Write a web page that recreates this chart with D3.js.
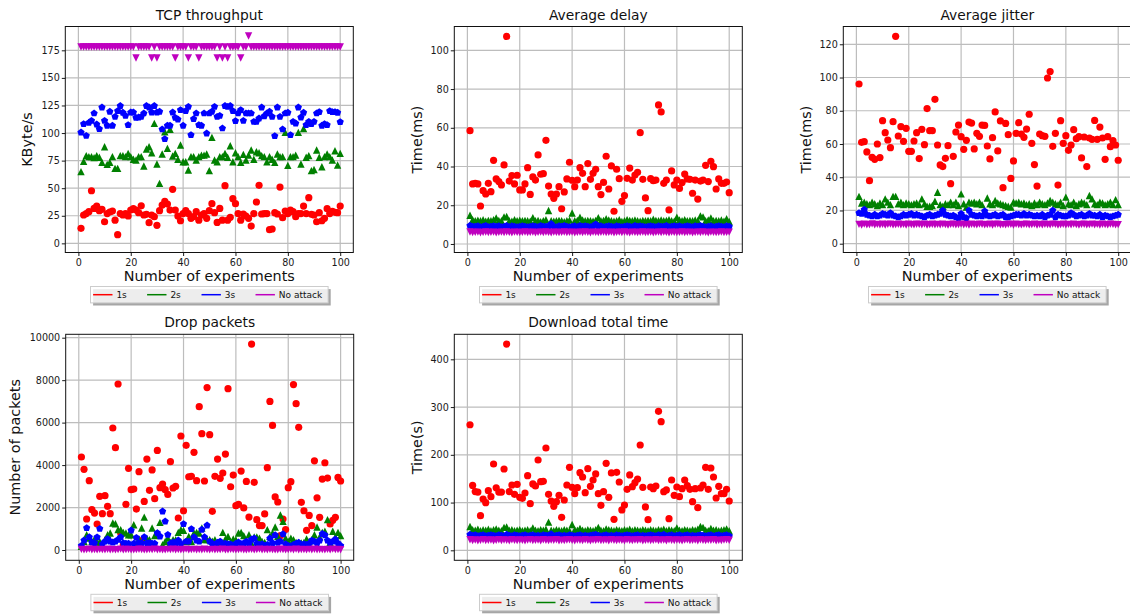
<!DOCTYPE html>
<html><head><meta charset="utf-8">
<script src="https://cdn.jsdelivr.net/npm/d3@7"></script>
<style>body{margin:0;background:#fff;} svg{display:block;font-family:"DejaVu Sans",sans-serif;}</style>
</head><body><svg id="c" width="1130" height="614"></svg>
<script>
// ---------------- DATA ----------------
const experiments = d3.range(1, 101);
const seriesLabels = ["1s", "2s", "3s", "No attack"];
const xTicks = [0, 20, 40, 60, 80, 100];

const tcpTicks = [0, 25, 50, 75, 100, 125, 150, 175];
const tcp1 = [13.6,25.7,27,28.7,47.7,31.7,33.8,29.6,30.8,19.6, 27,28.4,29.3,21,7.9,27,25.7,27,24.8,30.2, 31.4,30.2,27.8,34,25.7,26.3,18.7,25.7,24.2,16.3, 29.6,34.7,38,35.6,30.2,49,30.2,24.8,20.5,27, 29.6,27,22.7,24.2,28.7,21,25.7,27,22.7,29.6, 36,27.8,19,31.7,21,52.3,21,23.6,40.5,36, 27,21,26.6,24.8,22.7,15.7,27,37.5,52.6,26.6, 27,27,12.4,13,27.8,26.6,51,23.3,29.3,27, 30.2,28.7,24.2,27,27,33.8,27,41.4,26.3,25.7, 19.6,27.8,20.5,22.7,31.4,27,29,28.1,27.8,33.8];
const tcp2 = [65,74.3,79.5,78.6,78.6,77.7,79.5,78,73.4,87.6, 71.6,73.4,78.6,68,68,79.5,79.5,78.6,81.6,78.6, 76.2,75.6,78.6,78.6,70.1,85.5,87.6,82.2,108.8,71.9, 54.4,81,101.2,86.1,103.4,79.2,81.6,76.2,89.1,74, 74,66.5,78.6,78.6,75.6,78.6,80,80,81,65.9, 96.1,75.6,74,78.6,78.6,81.6,78,88.5,74,82.2, 78.6,73.4,80.7,75.6,80,84.6,76.2,83.1,82.2,79.5, 78.6,74,78.6,76.2,73.4,81,78.6,78.6,100.6,70.7, 78.6,78.6,80,100.6,71.9,104,78,79.5,65.9,67, 84.6,78,69.5,78.6,81,78.6,75.6,84,71,81.6];
const tcp3 = [100.6,108.2,97.6,109.4,111.2,117.9,107.9,103.7,123.3,111.2, 106.7,119.4,106.7,114.8,120,124.6,118.5,115.7,107.3,118.8, 118.8,113.9,114.2,114.8,117.9,124.6,123.3,118.8,124.6,118.8, 119.4,103.4,94.6,106.7,106.7,118.8,113.9,112.4,120.9,106.7, 120,123.9,98.2,112.7,117.9,107.3,106.7,117.9,99.7,117.9, 119.4,123.9,114.8,115.7,104.3,124.6,123.9,124.6,120,110.9, 117.9,120.9,111.2,117.9,117.9,117.9,110.3,110.3,113.3,123.3, 115.4,117.9,119.4,114.8,97.3,123.3,114.8,103.4,117.9,118.5, 98.2,110.3,108.8,123.3,114.2,118.5,107.3,110.3,108.2,110.3, 117.9,119.1,106.7,108.2,107.3,120,119.1,119.1,118.5,110];
const tcpN = [178,178,178,178,178,178,178,178,178,178, 178,178,178,178,178,178,178,178,178,178, 178,168,178,178,178,178,178,168,178,168, 178,178,178,178,178,178,168,178,178,178, 178,168,178,178,178,168,178,178,178,178, 178,178,168,178,168,178,168,178,178,178, 178,168,178,178,188,178,178,178,178,178, 178,178,178,178,178,178,178,178,178,178, 178,178,178,178,178,178,178,178,178,178, 178,178,178,178,178,178,178,178,178,178];

const delayTicks = [0, 20, 40, 60, 80, 100];
const delay1 = [58.5,31,31.3,31,19.6,27.5,25.8,31.3,27,43.2, 33.6,32.2,30.5,40.8,107.2,32.5,35.3,31,35.5,27.9, 27.9,31,39.4,25.6,34.6,33,46,36,36.3,53.5, 29.9,25.8,23.6,25.8,29.6,18.2,26.9,33.6,42.2,32.9, 29.6,33,39.4,36.5,29.6,41.5,33.4,36.5,38.6,29.6, 25.5,31.8,45.3,28.4,40.3,16.9,38.6,33.7,22,25, 33.9,39.2,33,35.6,37,57.5,33.4,23.8,17.2,33.7, 32.7,33,71.8,68.2,31.3,33,17.6,37.7,30.5,33, 28.7,31.7,36.1,33.6,33.4,26.2,33,23.2,32.5,33, 40.6,32.2,42.7,39.9,28.4,33.6,31.3,31.3,32,26.5];
const delay2 = [14.8,12.5,12,12.3,12,12.5,11.8,12.2,12,12.6, 13.5,12.2,12,14,14.2,12,11.8,12.5,12,12.3, 12,12.2,12,11.8,13.6,12,12.2,11.5,12,12.6, 17.3,12,11.8,12,12.2,12,11.5,12,12.3,16, 12,12.2,13.8,12.4,12,12.2,12,11.8,12.2,13.6, 12,12.2,13,12.4,12,11.8,12,12.5,11.6,12, 12.6,12.2,12,12.4,12,11.8,12.2,12,12.2,12, 12.8,12.2,12,12.4,12,12.2,12.6,12,11.8,13.8, 12.4,12,12.6,12,12.2,12,12.4,12,14.5,14, 12,12.4,13.5,12,12.2,12,12.4,11.8,13,11.6];
const delay3 = [9.5,9,9,9.2,8.8,9,9.4,8.8,9,9.2, 9,9.2,8.8,9,9.4,8.8,9.2,9,8.8,9, 9.2,9,8.8,9,9.2,9,8.8,9.4,9,9, 9.2,10.4,9,8.8,9.2,9,9.4,9,8.8,9, 9.2,8.8,9.4,9,9.2,9,8.8,9.2,10.2,9, 9.2,8.8,9,9.2,9,8.8,9.2,9,8.8,9, 9.2,9,8.8,9.4,9,9.2,9,8.8,9,9.2, 9,8.8,9.2,9,9,9.4,8.8,9,9.2,9, 9.2,8.8,9,9.2,9,8.8,9.2,9,9.4,9, 8.8,9,9.2,8.8,9,9.2,9,8.8,9.2,9];
const delayN = [6.2,5.9,6,6.1,5.8,6,6.2,5.9,6,6.1, 5.8,6,6.1,5.9,6.2,6,5.8,6.1,6,5.9, 6,6.2,5.9,6,6.1,5.8,6,6.1,5.9,6.2, 6,5.8,6.1,6,5.9,6,6.2,5.9,6,6.1, 5.8,6,6.1,5.9,6.2,6,5.8,6.1,6,5.9, 6,6.2,5.9,6,6.1,5.8,6,6.1,5.9,6.2, 6,5.8,6.1,6,5.9,6,6.2,5.9,6,6.1, 5.8,6,6.1,5.9,6.2,6,5.8,6.1,6,5.9, 6,6.2,5.9,6,6.1,5.8,6,6.1,5.9,6.2, 6,5.8,6.1,6,5.9,6,6.2,5.9,6,6.1];

const jitterTicks = [0, 20, 40, 60, 80, 100, 120];
const jitter1 = [96.1,61,61.4,55.2,37.9,52,50.8,60,51.8,74, 66.8,62.4,57.8,73.4,124.8,64.8,70.4,61.6,69.4,55.6, 55.6,61.8,66.8,51.2,68.8,59.6,81.3,68,68,86.9, 59.4,47.4,46.4,51.4,59,36.1,52.6,67.2,71.4,64.4, 56.8,62.2,73.2,72.6,57,66.4,64.6,71.4,71.2,58.8, 51,63.8,79.3,55.8,73.9,33.7,72.4,65.6,39.3,49.8, 66.4,72.8,66,64,69,77.9,60.4,47.6,34.7,66, 65,64.6,99.7,103.6,58.6,66.4,35.3,74,60.4,65, 56.2,59.4,68.6,63.2,64.4,51.6,64.2,46.4,63.6,62.8, 74.2,62.8,70.2,63.6,50.8,64.4,58.4,62,59.4,50.2];
const jitter2 = [28.5,24.5,25,24,23.5,25,24,23,24.5,23.5, 27,25,23.5,28.5,28.5,24,25,23.5,24.5,24, 23.5,24,24.5,23.5,27,24,22.5,22.5,23,25.5, 31,23.5,22.5,24,23.5,25,23.5,25,23,30, 24,22,25,24.5,25,24,25,23.5,19.5,27.5, 24,23.5,26,24.5,24,23.5,23,22.5,22,25, 24.5,25,24,24.5,23.5,24,23,24.5,23.5,25, 24,23.5,24.5,26,25,24,23.5,25,23,28, 24,23.5,25,23,24,25,24.5,23.5,29,27, 24,23.5,25,24.5,23.5,24,25,23.5,26.5,23.5];
const jitter3 = [18.5,18,20.5,17.5,17,16.5,17.5,16.5,17,18, 17.5,17,18.5,17,16.5,16,16.5,17.5,17,17.5, 18,17,17.5,17,16.5,16,17,17.5,16.5,17, 17.5,18,20,17.5,17,16.5,17,16,15.5,18, 16,15.5,20,17.5,17,16.5,17,16.5,19.5,17, 16.5,17,17.5,16.5,17,17.5,16,16,16.5,17, 17.5,17.5,17,18,17,17.5,17,16.5,17,16.5, 17.5,16,17,17.5,20,16,17.5,17,16.5,16.5, 17,18.5,17.5,16.5,17,17.5,16.5,17,18,17, 17,16.5,17.5,16,17,16.5,16,16.5,17,17.5];
const jitterN = [11.6,11.2,11.8,11.4,11.5,11.9,11.3,11.6,11.4,11.7, 11.2,11.6,11.8,11.3,11.5,11.7,11.4,11.6,11.2,11.8, 11.5,11.3,11.7,11.6,11.4,11.8,11.2,11.5,11.7,11.3, 11.6,11.4,11.8,11.5,11.2,11.6,11.7,11.3,11.5,11.8, 11.4,11.6,11.2,11.7,11.5,11.3,11.8,11.6,11.4,11.5, 11.7,11.2,11.6,11.8,11.3,11.5,11.4,11.7,11.6,11.2, 11.8,11.5,11.3,11.6,11.7,11.4,11.5,11.8,11.2,11.6, 11.3,11.7,11.5,11.4,11.8,11.6,11.2,11.5,11.7,11.3, 11.6,11.4,11.8,11.5,11.2,11.6,11.7,11.3,11.5,11.8, 11.4,11.6,11.2,11.7,11.5,11.3,11.8,11.6,11.4,11.5];

const dropTicks = [0, 2000, 4000, 6000, 8000, 10000];
const drop1 = [4380,3800,1460,3265,1900,1740,1224,2527,1711,2560, 2057,1711,5746,4819,7818,800,250,2150,3846,2840, 2870,1930,3690,440,2290,4285,2810,3770,2420,4690, 2935,3110,2840,2620,4160,2920,3000,1507,5370,1850, 4930,3450,3470,4600,3265,6750,5480,3250,7650,5430, 1820,3470,4285,3375,3626,4520,7600,2980,3530,2090, 2150,3720,1980,3230,1550,9700,3190,1430,1150,1150, 1700,3880,7000,5870,2500,2260,675,1460,960,2935, 3220,7790,6890,5780,2245,1850,926,1630,1150,4200, 2460,1540,3340,4110,3390,1224,1400,1540,3420,3250];
const drop2 = [170,400,720,560,400,520,360,400,250,490, 720,800,1270,1240,960,960,830,800,720,720, 1190,300,520,1036,1550,560,490,1036,675,800, 1300,250,400,560,360,490,490,830,960,926, 400,640,400,800,830,800,1036,490,490,490, 410,490,320,320,830,520,640,400,520,490, 800,830,675,400,720,300,610,610,560,400, 360,960,640,800,1080,640,1650,1350,560,400, 560,490,360,330,330,360,520,400,490,720, 1080,610,830,880,1430,360,880,610,830,675];
const drop3 = [200,455,1036,610,360,330,600,1000,280,400, 520,400,360,400,490,610,330,300,300,926, 300,580,330,330,610,330,330,300,300,800, 640,1820,1350,720,300,360,300,455,300,1224, 400,400,990,610,455,400,960,610,1160,400, 300,250,350,400,250,300,280,270,200,300, 360,280,320,400,300,500,550,300,250,280, 200,250,550,330,700,350,400,750,280,200, 180,250,300,350,200,280,250,300,450,400, 320,450,760,700,450,350,400,500,320,200];
const dropN = [30,10,20,40,15,25,5,30,20,10, 35,15,25,10,20,40,5,25,30,15, 10,20,35,25,5,15,30,20,40,10, 25,15,5,30,20,35,10,25,15,20, 40,5,20,30,15,25,10,35,20,15, 30,10,25,20,40,5,15,30,25,10, 20,35,15,5,25,30,10,20,40,15, 25,10,30,20,5,15,35,25,10,20, 30,15,40,10,25,20,5,30,15,35, 10,25,20,15,30,5,40,20,25,10];

const dlTicks = [0, 100, 200, 300, 400];
const dl1 = [263,136,123,122,72.6,107.5,99.8,125,112.4,180.8, 131,122,122,170.3,432,123,136.8,117.3,138.2,111, 108.9,120,156.4,97.7,139,134.7,189.2,143.8,144.5,214.3, 117.3,103.3,92.1,101.9,115.2,69.1,105.4,136.8,173.8,131.9, 118.7,131.2,162.7,153.6,120.8,171,134,147.3,159.9,118.7, 94.2,122.9,182.2,111,162,64.9,163.4,143.1,84.5,94.9, 127.7,157.8,133.3,141.7,149.4,220.6,131.9,90.8,64.2,132.6, 129.1,134.7,291,269.5,122.9,126.4,66.3,147.3,115.2,132.6, 112.4,129.1,147.3,135.4,127.7,101.9,129.1,89.4,130.5,136.8, 173.8,127.7,172.4,153.6,109.6,134,118.7,118.7,127.7,103.3];
const dl2 = [50,43,42,44,41,43,42,44,41,43, 45,42,41,48,49,42,43,41,42,43, 41,42,43,41,47,42,41,43,42,44, 59,42,41,43,42,41,43,42,41,54, 43,42,46,42,41,43,42,41,43,48, 42,41,45,43,42,41,43,42,41,43, 42,44,41,43,42,41,43,42,41,43, 42,41,43,42,44,41,43,42,41,47, 42,41,43,42,41,43,42,44,50,48, 42,41,46,42,43,41,42,43,45,41];
const dl3 = [33,31,32,30,31,32,30,31,32,31, 30,32,31,30,33,31,30,32,31,30, 31,32,30,31,32,30,31,30,32,31, 31,34,30,31,32,30,31,30,32,31, 30,31,32,30,31,30,31,32,33,31, 30,31,32,30,31,30,32,31,30,31, 32,31,30,31,32,30,31,30,31,32, 31,30,32,31,33,30,31,32,30,31, 32,30,31,32,30,31,30,31,32,31, 30,31,32,30,31,32,30,31,32,30];
const dlN = [22,20.5,21.5,20,21,22,20.5,21,21.5,20, 21,22,20.5,21.5,21,20,22,21,20.5,21.5, 21,20,21.5,22,20.5,21,21.5,20,22,21, 20.5,21.5,21,22,20,21,20.5,21.5,22,21, 20,21.5,21,20.5,22,21,20,21.5,21,22, 20.5,21,21.5,20,22,21,20.5,21.5,21,20, 22,21,20.5,21.5,21,22,20,21,21.5,20.5, 21,22,20.5,21,21.5,20,22,21,20.5,21.5, 21,20,21.5,22,20.5,21,21.5,20,22,21, 20.5,21.5,21,22,20,21,20.5,21.5,22,21];

// ---------------- LAYOUT / STYLE ----------------
const colors = ["#ff0000", "#008000", "#0000ff", "#bf00bf"];
const shapes = ["circle", "triUp", "pentagon", "triDown"];
const W = 288, H = 226;

const panels = [
  {title: "TCP throughput", ylabel: "KByte/s", left: 65.3, top: 26.5, yDomain: [-8.3, 196.6], yTicks: tcpTicks, series: [tcp1, tcp2, tcp3, tcpN], ylabX: -33},
  {title: "Average delay", ylabel: "Time(ms)", left: 454.3, top: 26.5, yDomain: [-4.4, 112.3], yTicks: delayTicks, series: [delay1, delay2, delay3, delayN], ylabX: -32},
  {title: "Average jitter", ylabel: "Time(ms)", left: 843.3, top: 26.5, yDomain: [-5.3, 130.7], yTicks: jitterTicks, series: [jitter1, jitter2, jitter3, jitterN], ylabX: -32},
  {title: "Drop packets", ylabel: "Number of packets", left: 65.7, top: 334.3, yDomain: [-485, 10160], yTicks: dropTicks, series: [drop1, drop2, drop3, dropN], ylabX: -45.3},
  {title: "Download total time", ylabel: "Time(s)", left: 454.3, top: 334.3, yDomain: [-20.9, 452.4], yTicks: dlTicks, series: [dl1, dl2, dl3, dlN], ylabX: -32}
];

function markerPath(type) {
  if (type === "circle") { const r = 3.6; return `M${r},0A${r},${r} 0 1,1 ${-r},0A${r},${r} 0 1,1 ${r},0Z`; }
  if (type === "triUp") { const s = 3.7; return `M0,${-s}L${s},${s}L${-s},${s}Z`; }
  if (type === "triDown") { const s = 3.7; return `M0,${s}L${s},${-s}L${-s},${-s}Z`; }
  const r = 3.8, pts = [];
  for (let k = 0; k < 5; k++) { const a = -Math.PI / 2 + k * 2 * Math.PI / 5; pts.push([r * Math.cos(a), r * Math.sin(a)]); }
  return "M" + pts.map(p => p[0].toFixed(2) + "," + p[1].toFixed(2)).join("L") + "Z";
}

const svg = d3.select("#c");
svg.append("rect").attr("width", 1130).attr("height", 614).attr("fill", "#fff");

panels.forEach(p => {
  const g = svg.append("g");
  const x = d3.scaleLinear().domain([-5, 105]).range([p.left, p.left + W]);
  const y = d3.scaleLinear().domain(p.yDomain).range([p.top + H, p.top]);
  const bottom = p.top + H;

  // grid
  g.append("g").selectAll("line").data(xTicks).enter().append("line")
    .attr("x1", d => x(d)).attr("x2", d => x(d)).attr("y1", p.top).attr("y2", bottom)
    .attr("stroke", "#bdbdbd").attr("stroke-width", 1.2);
  g.append("g").selectAll("line").data(p.yTicks).enter().append("line")
    .attr("x1", p.left).attr("x2", p.left + W).attr("y1", d => y(d)).attr("y2", d => y(d))
    .attr("stroke", "#bdbdbd").attr("stroke-width", 1.2);

  // markers
  const clipId = "clip" + Math.round(p.left) + "_" + Math.round(p.top);
  svg.append("clipPath").attr("id", clipId).append("rect")
    .attr("x", p.left).attr("y", p.top).attr("width", W).attr("height", H);
  const mg = g.append("g").attr("clip-path", `url(#${clipId})`);
  p.series.forEach((s, i) => {
    mg.append("g").selectAll("path").data(s).enter().append("path")
      .attr("transform", (d, j) => `translate(${x(experiments[j])},${y(d)})`)
      .attr("d", markerPath(shapes[i]))
      .attr("fill", colors[i]);
  });

  // axes
  const ax = g.append("g").attr("transform", `translate(0,${bottom})`)
    .call(d3.axisBottom(x).tickValues(xTicks).tickSize(3.5).tickPadding(3.6).tickFormat(d3.format("d")));
  const ay = g.append("g").attr("transform", `translate(${p.left},0)`)
    .call(d3.axisLeft(y).tickValues(p.yTicks).tickSize(3.5).tickPadding(2).tickFormat(d3.format("d")));
  [ax, ay].forEach(a => {
    a.select(".domain").remove();
    a.selectAll("text").attr("font-size", "9.6px").attr("fill", "#1a1a1a").attr("font-family", "DejaVu Sans");
    a.selectAll("line").attr("stroke", "#1a1a1a");
  });

  // frame
  g.append("rect").attr("x", p.left).attr("y", p.top).attr("width", W).attr("height", H)
    .attr("fill", "none").attr("stroke", "#111").attr("stroke-width", 1);

  // title & labels
  g.append("text").attr("x", p.left + W / 2).attr("y", p.top - 7).attr("text-anchor", "middle")
    .attr("font-size", "13.8px").attr("fill", "#111").text(p.title);
  g.append("text").attr("x", p.left + W / 2).attr("y", bottom + 28.3).attr("text-anchor", "middle")
    .attr("font-size", "14.4px").attr("fill", "#111").text("Number of experiments");
  g.append("text").attr("transform", `translate(${p.left + p.ylabX},${p.top + H / 2}) rotate(-90)`)
    .attr("text-anchor", "middle").attr("font-size", "14.4px").attr("fill", "#111").text(p.ylabel);

  // legend
  const lw = 237.6, lh = 16.4;
  const lx = p.left + W / 2 - lw / 2, ly = bottom + 34;
  const lg = g.append("g").attr("transform", `translate(${lx},${ly})`);
  lg.append("rect").attr("x", 2.6).attr("y", 2.6).attr("width", lw).attr("height", lh).attr("fill", "#4d4d4d").attr("opacity", 0.5);
  lg.append("rect").attr("width", lw).attr("height", lh).attr("fill", "#fff").attr("fill-opacity", 0.8)
    .attr("stroke", "#cccccc").attr("stroke-width", 1);
  const offs = [2.6, 56.6, 111, 165];
  seriesLabels.forEach((lab, i) => {
    lg.append("line").attr("x1", offs[i]).attr("x2", offs[i] + 19.4).attr("y1", lh / 2).attr("y2", lh / 2)
      .attr("stroke", colors[i]).attr("stroke-width", 1.5);
    lg.append("text").attr("x", offs[i] + 23.3).attr("y", lh / 2 + 3.3).attr("font-size", "9px")
      .attr("fill", "#111").text(lab);
  });
});
</script></body></html>
